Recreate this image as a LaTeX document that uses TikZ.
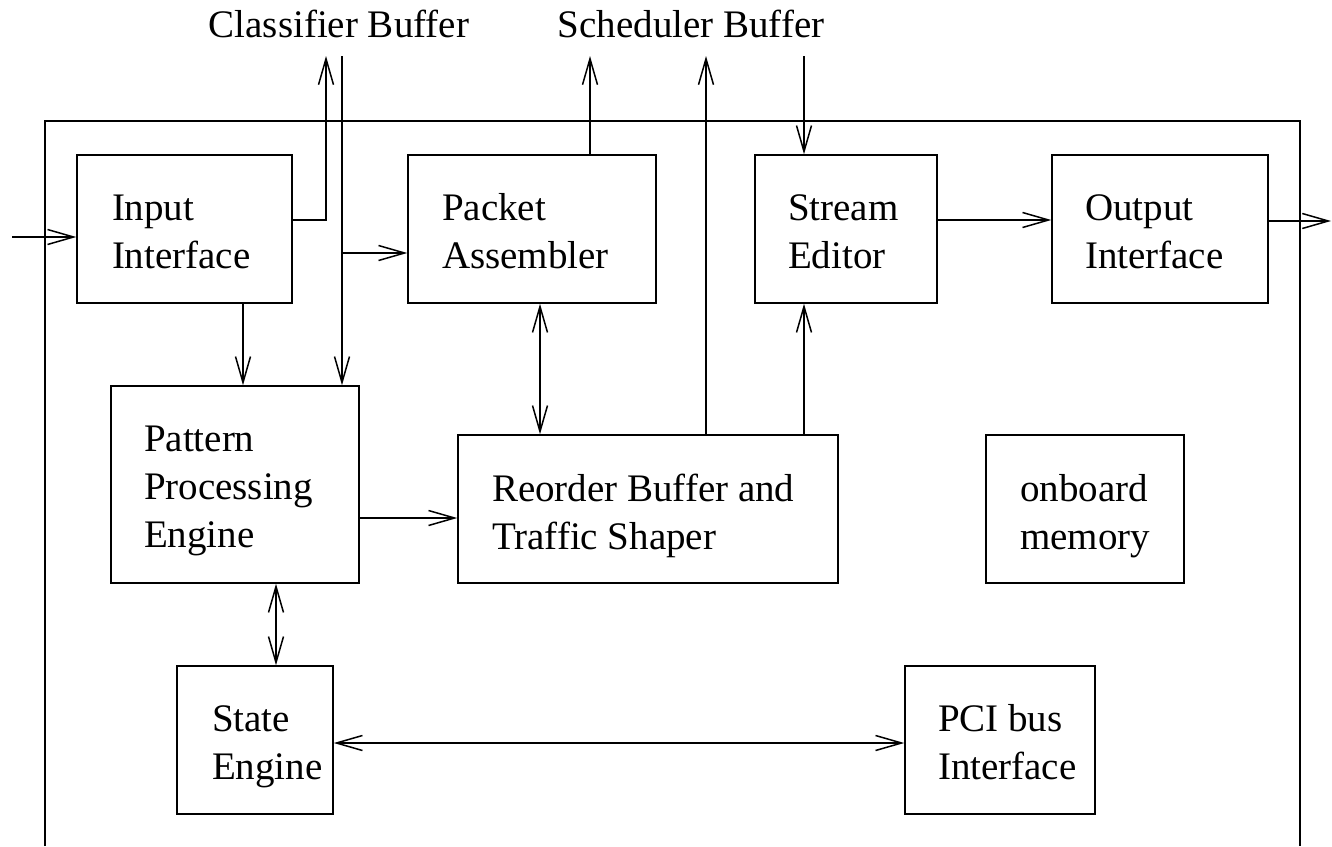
\documentclass[tikz,border=0pt]{standalone}
\usepackage{fontspec}
\setmainfont{Liberation Serif}
\usetikzlibrary{arrows.meta}
\tikzset{
  blk/.style={draw, inner sep=0pt},
  lbl/.style={anchor=base west, align=left, inner sep=0pt,
    font=\fontsize{39}{48}\selectfont},
  >={Straight Barb[length=26pt,width=15pt]}
}
\begin{document}
\begin{tikzpicture}[x=1pt,y=-1pt,line width=1.5pt]
  \useasboundingbox (0,0) rectangle (1332,846);
  % outer board
  \draw (45,846) |- (1300,121) -- (1300,846);
  \node[lbl] (cb) at (208,37) {Classifier Buffer};
  \node[lbl] (sb) at (557,37) {Scheduler Buffer};
  \coordinate (cbup) at (326,56);
  \coordinate (cbdown) at (342,56);
  \coordinate (sbup1) at (590,56);
  \coordinate (sbup2) at (706,56);
  \coordinate (sbdown) at (804,56);
  \coordinate (src) at (12,237);
  \coordinate (dst) at (1331,221);
  % blocks
  \node[blk, minimum width=215pt, minimum height=148pt] (in) at (184.5,229) {};
  \node[blk, minimum width=248pt, minimum height=148pt] (pa) at (532,229) {};
  \node[blk, minimum width=182pt, minimum height=148pt] (se) at (846,229) {};
  \node[blk, minimum width=216pt, minimum height=148pt] (out) at (1160,229) {};
  \node[blk, minimum width=248pt, minimum height=197pt] (pat) at (235,484.5) {};
  \node[blk, minimum width=380pt, minimum height=148pt] (rb) at (648,509) {};
  \node[blk, minimum width=198pt, minimum height=148pt] (mem) at (1085,509) {};
  \node[blk, minimum width=156pt, minimum height=148pt] (st) at (255,740) {};
  \node[blk, minimum width=190pt, minimum height=148pt] (pci) at (1000,740) {};
  % texts (base = last line)
  \node[lbl] (in-t) at ([shift={(35,114)}]in.north west) {Input\\Interface};
  \node[lbl] (pa-t) at ([shift={(34,114)}]pa.north west) {Packet\\Assembler};
  \node[lbl] (se-t) at ([shift={(33,114)}]se.north west) {Stream\\Editor};
  \node[lbl] (out-t) at ([shift={(33,114)}]out.north west) {Output\\Interface};
  \node[lbl] (pat-t) at ([shift={(33,162)}]pat.north west) {Pattern\\Processing\\Engine};
  \node[lbl] (rb-t) at ([shift={(34,115)}]rb.north west) {Reorder Buffer and\\Traffic Shaper};
  \node[lbl] (mem-t) at ([shift={(34,115)}]mem.north west) {onboard\\memory};
  \node[lbl] (st-t) at ([shift={(35,114)}]st.north west) {State\\Engine};
  \node[lbl] (pci-t) at ([shift={(33,114)}]pci.north west) {PCI bus\\Interface};
  % connections
  \draw[->] (src) -- (src -| in.west);
  \draw[->] (in.east |- 0,220) -| (cbup);
  \draw[->] (cbdown) -- (cbdown |- pat.north);
  \draw[->] (cbdown |- 0,253) -- (pa.west |- 0,253);
  \draw[->] (in.south -| 243,0) -- (pat.north -| 243,0);
  \draw[->] (pa.north -| sbup1) -- (sbup1);
  \draw[<->] (pa.south -| 540,0) -- (rb.north -| 540,0);
  \draw[->] (rb.north -| sbup2) -- (sbup2);
  \draw[->] (rb.north -| sbdown) -- (se.south -| sbdown);
  \draw[->] (sbdown) -- (se.north -| sbdown);
  \draw[->] (se.east |- 0,220) -- (out.west |- 0,220);
  \draw[->] (out.east |- 0,221) -- (dst);
  \draw[->] (pat.east |- 0,518) -- (rb.west |- 0,518);
  \draw[<->] (pat.south -| 276,0) -- (st.north -| 276,0);
  \draw[<->] (st.east |- 0,743) -- (pci.west |- 0,743);
\end{tikzpicture}
\end{document}
